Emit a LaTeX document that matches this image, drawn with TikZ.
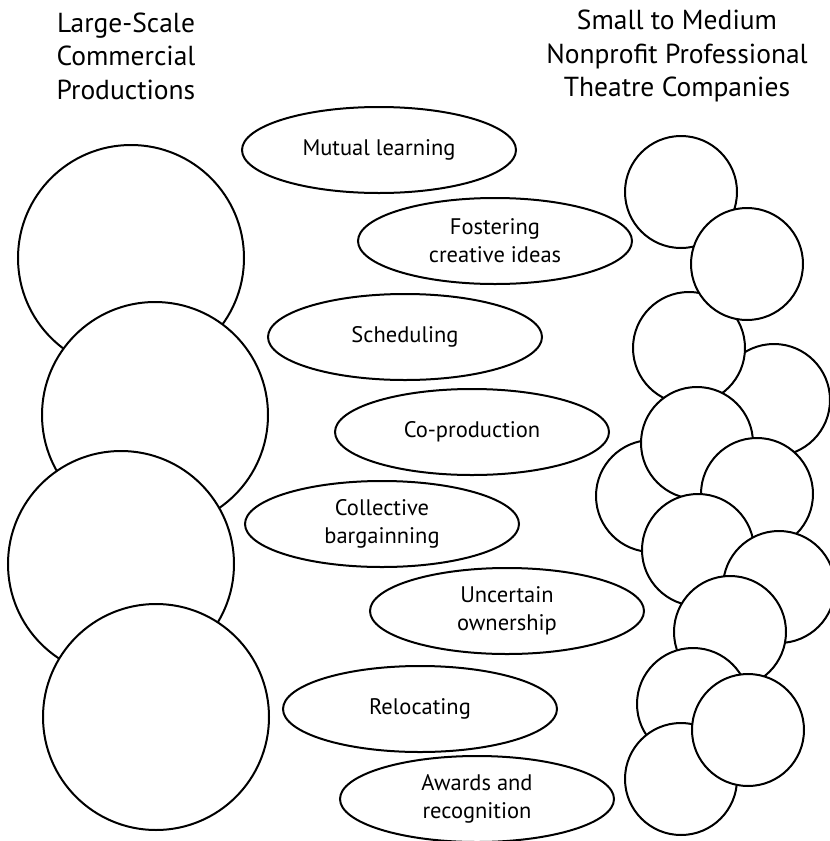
\documentclass[tikz,border=0pt]{standalone}
\usepackage{fontspec}
\setmainfont{PT Sans}
\usetikzlibrary{shapes.geometric}

\begin{document}
\begin{tikzpicture}[x=1pt, y=-1pt,
    bigdisc/.style={circle, draw, fill=white, line width=2pt, minimum size=226pt, inner sep=0pt},
    smalldisc/.style={circle, draw, fill=white, line width=2pt, minimum size=112pt, inner sep=0pt},
    issue/.style={ellipse, draw, line width=2pt, minimum width=274pt, minimum height=86pt,
      inner sep=0pt, align=center, font=\fontsize{22.5}{28}\selectfont},
    heading/.style={align=center, font=\fontsize{27.5}{33.5}\selectfont}]
    \useasboundingbox (0,0) rectangle (830,841);

    % headings
    \node[heading] (left) at (126,56) {Large-Scale\\Commercial\\Productions};
    \node[heading] (right) at (677,56) {Small to Medium\\Nonprofit Professional\\Theatre Companies};

    % large-scale productions
    \node[bigdisc] (l1) at (131,258) {};
    \node[bigdisc] (l2) at (155,415) {};
    \node[bigdisc] (l3) at (121,564) {};
    \node[bigdisc] (l4) at (156,717) {};

    % small companies
    \node[smalldisc] (s1) at (681,192) {};
    \node[smalldisc] (s4) at (774,400) {};
    \node[smalldisc] (s3) at (689,348) {};
    \node[smalldisc] (s2) at (747,264) {};
    \node[smalldisc] (s6) at (652,496) {};
    \node[smalldisc] (s5) at (697,443) {};
    \node[smalldisc] (s7) at (757,494) {};
    \node[smalldisc] (s8) at (698,550) {};
    \node[smalldisc] (s9) at (779,587) {};
    \node[smalldisc] (s10) at (730,632) {};
    \node[smalldisc] (s11) at (693,704) {};
    \node[smalldisc] (s13) at (681,779) {};
    \node[smalldisc] (s12) at (748,730) {};

    % issues
    \node[issue] (learning) at (379,150) {Mutual learning};
    \node[issue] (ideas) at (495,241) {Fostering\\creative ideas};
    \node[issue] (scheduling) at (405,337) {Scheduling};
    \node[issue] (coprod) at (472,432) {Co-production};
    \node[issue] (bargain) at (382,524) {Collective\\bargainning};
    \node[issue] (owner) at (507,611) {Uncertain\\ownership};
    \node[issue] (relocate) at (420,709) {Relocating};
    \node[issue] (awards) at (477,799) {Awards and\\recognition};
  \end{tikzpicture}
\end{document}
